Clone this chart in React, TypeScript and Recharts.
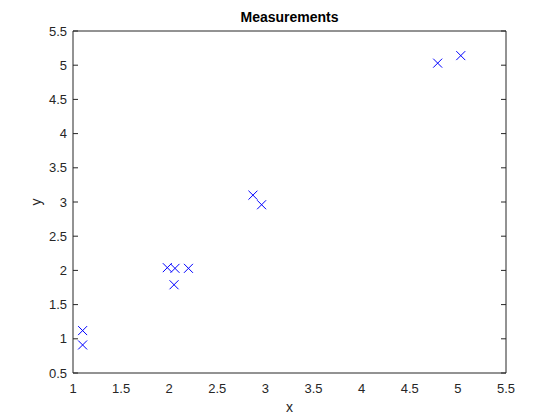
import React from 'react';
import { ScatterChart, Scatter, XAxis, YAxis } from 'recharts';

const xValues = [1.1, 1.1, 1.98, 2.06, 2.2, 2.05, 2.87, 2.96, 4.79, 5.03];
const yValues = [1.12, 0.91, 2.04, 2.03, 2.03, 1.79, 3.1, 2.96, 5.03, 5.14];
const xTicks = [1, 1.5, 2, 2.5, 3, 3.5, 4, 4.5, 5, 5.5];
const yTicks = [0.5, 1, 1.5, 2, 2.5, 3, 3.5, 4, 4.5, 5, 5.5];
const title = 'Measurements';
const xLabel = 'x';
const yLabel = 'y';

const data = xValues.map((x, i) => ({ x, y: yValues[i] }));

const FONT = '"Liberation Sans", Arial, Helvetica, sans-serif';
const AX = '#262626';

const Cross = (props: any) => {
  const { cx, cy } = props;
  const r = 4.5;
  return (
    <g stroke="#0000ff" strokeWidth={1} fill="none">
      <line x1={cx - r} y1={cy - r} x2={cx + r} y2={cy + r} />
      <line x1={cx - r} y1={cy + r} x2={cx + r} y2={cy - r} />
    </g>
  );
};

const NoTick = () => <g />;

const tickStyle = { fontSize: 13, fill: AX, fontFamily: FONT };

export default function App() {
  return (
    <div style={{ position: 'absolute', left: 0, top: 0, width: 560, height: 420, background: '#fff' }}>
      <div
        style={{
          position: 'absolute',
          left: 73,
          width: 433,
          top: 8,
          textAlign: 'center',
          fontFamily: FONT,
          fontWeight: 'bold',
          fontSize: 14,
          color: '#000',
          lineHeight: '18px',
        }}
      >
        {title}
      </div>
      <ScatterChart width={560} height={420} margin={{ top: 31, right: 54, bottom: 0, left: 0 }}>
        <XAxis
          xAxisId="b"
          dataKey="x"
          type="number"
          domain={[1, 5.5]}
          ticks={xTicks}
          allowDataOverflow
          height={47}
          tickSize={0}
          tickMargin={11}
          tickLine={false}
          axisLine={{ stroke: AX }}
          tick={tickStyle}
          label={{ value: xLabel, position: 'insideBottom', offset: 8, fill: AX, fontSize: 14, fontFamily: FONT }}
        />
        <XAxis
          xAxisId="bm"
          type="number"
          domain={[1, 5.5]}
          ticks={xTicks}
          allowDataOverflow
          orientation="bottom"
          mirror
          tickSize={5}
          tickLine={{ stroke: AX }}
          axisLine={false}
          tick={NoTick}
        />
        <XAxis
          xAxisId="t"
          type="number"
          domain={[1, 5.5]}
          ticks={xTicks}
          allowDataOverflow
          orientation="top"
          mirror
          tickSize={5}
          tickLine={{ stroke: AX }}
          axisLine={{ stroke: AX }}
          tick={NoTick}
        />
        <YAxis
          yAxisId="l"
          dataKey="y"
          type="number"
          domain={[0.5, 5.5]}
          ticks={yTicks}
          allowDataOverflow
          width={73}
          tickSize={0}
          tickMargin={6}
          tickLine={false}
          axisLine={{ stroke: AX }}
          tick={tickStyle}
          label={{ value: yLabel, angle: -90, position: 'center', fill: AX, fontSize: 14, fontFamily: FONT }}
        />
        <YAxis
          yAxisId="lm"
          type="number"
          domain={[0.5, 5.5]}
          ticks={yTicks}
          allowDataOverflow
          orientation="left"
          mirror
          tickSize={5}
          tickLine={{ stroke: AX }}
          axisLine={false}
          tick={NoTick}
        />
        <YAxis
          yAxisId="r"
          type="number"
          domain={[0.5, 5.5]}
          ticks={yTicks}
          allowDataOverflow
          orientation="right"
          mirror
          tickSize={5}
          tickLine={{ stroke: AX }}
          axisLine={{ stroke: AX }}
          tick={NoTick}
        />
        <Scatter data={data} xAxisId="b" yAxisId="l" shape={Cross} isAnimationActive={false} />
      </ScatterChart>
    </div>
  );
}
